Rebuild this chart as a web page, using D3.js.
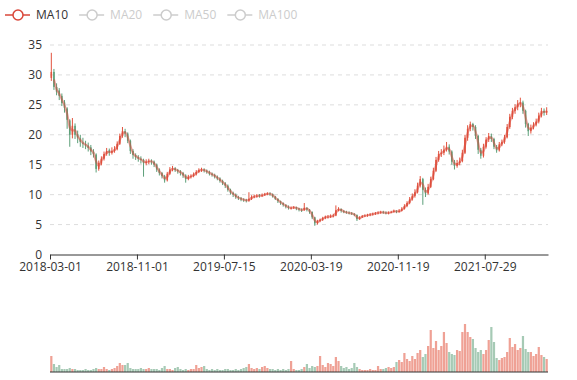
<!DOCTYPE html>
<html><head><meta charset="utf-8">
<script src="https://cdn.jsdelivr.net/npm/d3@7"></script>
<style>body{margin:0;background:#fff}svg{display:block}text{font-family:"Open Sans","Noto Sans",sans-serif}</style>
</head><body><svg id="c" width="577" height="380"></svg>
<script>
// Weekly candles (2018-03 .. 2022-01)
const tickLabels = ["2018-03-01","2018-11-01","2019-07-15","2020-03-19","2020-11-19","2021-07-29"];
const tickIndex = [0,33,66,99,132,165];
const seriesNames = ["MA10","MA20","MA50","MA100"];
const opens = [
29.5,30.5,28.0,27.4,26.5,25.4,24.4,22.4,20.0,21.5,
20.1,19.4,18.7,18.4,18.2,17.9,17.2,16.7,14.3,15.2,
16.0,16.8,17.4,17.0,17.3,17.6,18.5,19.8,20.6,20.2,
19.0,17.3,16.6,16.3,16.0,15.8,15.3,15.5,15.6,15.5,
15.0,14.2,13.6,13.1,12.4,13.5,14.2,14.4,14.1,13.9,
13.6,13.2,12.6,13.0,13.1,13.4,13.8,14.1,14.2,14.0,
13.8,13.5,13.3,13.0,12.7,12.3,11.9,11.5,10.8,10.3,
10.0,9.6,9.4,9.2,9.1,9.0,9.3,9.6,9.7,9.9,
9.8,9.9,10.1,10.2,10.1,9.7,9.3,8.9,8.6,8.3,
8.0,7.7,7.8,7.9,7.7,7.5,7.4,7.8,7.5,7.1,
6.2,5.2,5.6,5.8,6.1,6.2,6.3,6.4,6.5,7.4,
7.6,7.3,7.1,7.0,6.9,6.8,6.6,5.9,6.2,6.4,
6.5,6.6,6.7,6.8,6.9,7.0,7.1,7.0,6.9,7.0,
7.1,7.3,7.1,7.3,7.6,8.1,8.6,9.2,9.8,10.4,
11.5,12.6,10.8,10.2,11.3,12.6,14.0,15.8,16.8,17.0,
17.5,18.0,17.2,15.5,14.8,15.3,15.6,17.0,19.5,21.0,
21.8,21.3,19.8,17.5,16.5,18.0,19.2,19.8,19.3,18.0,
17.4,18.4,18.8,19.6,21.3,23.0,24.0,24.6,25.2,25.4,
24.0,21.8,20.6,21.2,21.7,22.2,23.2,24.0,23.7];
const closes = [
30.5,28.0,27.2,26.5,25.3,24.5,22.5,20.0,21.5,20.0,
19.5,18.8,18.5,18.2,17.8,17.2,16.8,14.3,15.3,16.0,
16.8,17.3,17.0,17.3,17.6,18.5,19.8,20.6,20.2,19.0,
17.3,16.6,16.3,16.0,15.8,15.3,15.5,15.6,15.5,15.0,
14.2,13.6,13.1,12.4,13.5,14.2,14.4,14.1,13.9,13.6,
13.2,12.6,13.0,13.1,13.4,13.8,14.1,14.2,14.0,13.8,
13.5,13.3,13.0,12.7,12.3,11.9,11.5,10.8,10.3,10.0,
9.6,9.4,9.2,9.1,9.0,9.3,9.6,9.7,9.8,9.8,
9.9,10.1,10.2,10.1,9.7,9.3,8.9,8.6,8.3,8.0,
7.8,7.8,7.9,7.7,7.5,7.4,7.8,7.5,7.1,6.2,
5.2,5.6,5.8,6.1,6.3,6.3,6.4,6.5,7.4,7.6,
7.3,7.1,7.0,6.9,6.8,6.6,5.9,6.2,6.4,6.5,
6.6,6.7,6.8,6.9,7.0,7.1,7.0,6.9,7.0,7.1,
7.3,7.1,7.3,7.6,8.1,8.6,9.2,9.8,10.4,11.5,
12.6,10.8,10.2,11.3,12.6,14.0,15.8,16.8,17.0,17.5,
18.0,17.2,15.5,14.8,15.3,15.6,17.0,19.5,21.0,21.8,
21.3,19.8,17.5,16.5,18.0,19.2,19.8,19.3,18.0,17.4,
18.4,18.8,19.6,21.3,23.0,24.0,24.6,25.2,25.4,24.0,
21.8,20.6,21.2,21.7,22.2,23.2,24.0,23.7,24.0];
const lows = [
29.0,27.5,26.6,25.8,24.8,23.7,21.0,18.0,19.4,19.3,
18.6,18.0,17.8,17.6,17.2,16.6,16.2,13.7,14.0,14.9,
15.7,16.5,16.5,16.7,17.0,17.4,18.3,19.5,19.6,18.6,
16.8,16.0,15.8,15.5,15.2,13.0,14.9,15.1,15.0,14.6,
13.8,13.2,12.7,12.0,12.2,13.3,13.9,13.8,13.5,13.2,
12.8,12.0,12.4,12.7,12.9,13.2,13.6,13.8,13.7,13.5,
13.2,13.0,12.7,12.4,12.0,11.6,11.1,10.5,10.0,9.6,
9.3,9.1,8.9,8.8,8.7,8.8,9.1,9.4,9.5,9.5,
9.6,9.8,9.9,9.8,9.5,9.1,8.6,8.3,8.0,7.7,
7.5,7.5,7.6,7.4,7.2,7.1,7.3,7.2,6.8,5.9,
4.8,5.0,5.4,5.6,5.9,6.0,6.1,6.2,6.4,7.2,
7.0,6.9,6.8,6.7,6.6,6.4,5.6,5.8,6.1,6.3,
6.3,6.4,6.5,6.6,6.7,6.8,6.8,6.7,6.7,6.9,
7.0,6.9,7.0,7.2,7.5,7.9,8.4,9.0,9.5,10.2,
11.2,8.3,9.6,10.0,11.1,12.4,13.8,15.5,16.3,16.6,
17.2,16.7,15.0,14.2,14.5,14.9,15.4,16.8,19.0,20.6,
20.7,19.3,16.8,16.0,16.2,17.7,18.8,18.8,17.6,17.0,
17.2,18.1,18.5,19.4,21.0,22.6,23.5,24.1,24.6,23.5,
21.2,19.8,20.2,20.9,21.4,21.9,22.9,23.2,23.3];
const highs = [
33.7,31.0,28.6,27.8,26.9,25.8,24.6,22.6,22.8,21.9,
20.7,20.0,19.5,19.0,18.7,18.3,17.6,16.9,15.7,16.4,
17.2,17.8,17.7,17.9,18.1,18.9,20.2,21.3,21.0,20.4,
19.2,17.6,16.9,16.6,16.4,16.0,15.9,16.0,15.9,15.7,
15.2,14.4,13.8,13.3,13.8,14.6,14.8,14.6,14.3,14.1,
13.8,13.4,13.3,13.4,13.7,14.1,14.4,14.5,14.4,14.2,
14.0,13.7,13.5,13.2,12.9,12.5,12.1,11.7,11.0,10.5,
10.2,9.8,9.6,9.4,9.3,10.4,9.9,10.0,10.1,10.1,
10.2,10.3,10.4,10.4,10.2,9.8,9.4,9.0,8.7,8.4,
8.2,8.0,8.1,8.0,7.8,7.7,8.6,7.9,7.6,7.2,
6.3,5.8,6.0,6.3,6.5,6.6,6.7,6.8,8.2,7.9,
7.7,7.4,7.3,7.2,7.1,6.9,6.7,6.4,6.6,6.7,
6.8,6.9,7.0,7.1,7.2,7.3,7.3,7.2,7.2,7.3,
7.5,7.4,7.6,7.9,8.4,8.9,9.6,10.2,10.9,12.0,
13.1,12.8,11.2,11.8,13.0,14.5,16.3,17.3,17.6,18.2,
18.8,18.4,17.4,15.8,15.8,16.2,17.5,20.0,21.6,22.2,
22.0,21.6,20.0,17.8,18.5,19.6,20.3,20.2,19.5,18.3,
18.8,19.2,20.0,21.8,23.5,24.5,25.1,25.8,26.2,25.7,
24.2,22.0,21.7,22.1,22.7,23.7,24.5,24.4,24.6];
const volumes = [
16,8,5,7,3,3,3,4,3,3,
2,2,2,3,2,2,3,4,3,3,
5,3,2,3,4,6,9,7,7,9,
4,3,3,3,4,3,3,4,3,3,
3,2,4,6,3,3,2,4,5,3,
2,3,2,3,3,7,4,5,6,3,
2,3,2,3,2,2,3,3,2,2,
3,2,3,4,5,8,4,3,4,3,
5,6,4,3,3,2,3,2,3,2,
3,11,3,2,2,3,5,8,4,6,
5,6,16,7,5,9,8,6,15,11,
6,4,5,3,4,9,5,3,2,2,
2,3,2,2,6,3,3,4,5,4,
5,10,12,10,19,13,11,16,13,19,
22,15,18,26,42,24,31,22,26,40,
29,20,18,17,22,21,40,48,40,35,
33,24,20,22,18,22,32,45,30,14,
12,14,15,20,34,25,28,22,24,36,
23,20,20,16,18,25,17,15,13];
const maWindow = 2; // 10 trading days = 2 weekly bars

const upColor = "#e2533e", downColor = "#5c9f79", maColor = "#d9473a";
const n = closes.length;
const svg = d3.select("#c");
const L = 50, R = 548, T = 45, B = 254.5, VT = 322, VB = 372;

const x = d3.scaleLinear().domain([0, n]).range([L, R]);
const y = d3.scaleLinear().domain([0, 35]).range([B, T]);
const yv = d3.scaleLinear().domain([0, 50]).range([VB, VT]);
const band = x(1) - x(0);

// grid lines
svg.append("g").selectAll("line").data(y.ticks(7).filter(d => d > 0)).join("line")
  .attr("x1", L).attr("x2", R).attr("y1", d => y(d)).attr("y2", d => y(d))
  .attr("stroke", "#ddd").attr("stroke-dasharray", "4,4");

// y axis
const ya = svg.append("g").attr("transform", `translate(${L},0)`)
  .call(d3.axisLeft(y).ticks(7).tickSize(0).tickPadding(8));
ya.select(".domain").remove();
ya.selectAll("text").attr("fill", "#333").style("font-size", "12px");

// candles
const cg = svg.append("g");
const idx = d3.range(n);
const col = i => closes[i] >= opens[i] ? upColor : downColor;
cg.selectAll("line").data(idx).join("line")
  .attr("x1", i => x(i + 0.5)).attr("x2", i => x(i + 0.5))
  .attr("y1", i => y(highs[i])).attr("y2", i => y(lows[i]))
  .attr("stroke", col).attr("stroke-width", 1);
const bw = band * 0.6;
cg.selectAll("rect").data(idx).join("rect")
  .attr("x", i => x(i + 0.5) - bw / 2).attr("width", bw)
  .attr("y", i => y(Math.max(opens[i], closes[i])))
  .attr("height", i => Math.max(0.8, Math.abs(y(opens[i]) - y(closes[i]))))
  .attr("fill", col);

// MA10
const ma = idx.map(i => i < maWindow - 1 ? null : d3.mean(closes.slice(i - maWindow + 1, i + 1)));
svg.append("path").datum(idx)
  .attr("d", d3.line().defined(i => ma[i] != null).x(i => x(i + 0.5)).y(i => y(ma[i])).curve(d3.curveMonotoneX))
  .attr("fill", "none").attr("stroke", maColor).attr("stroke-width", 2.2).attr("stroke-opacity", 0.5);

// x axis
const xa = svg.append("g").attr("transform", `translate(0,${B})`)
  .call(d3.axisBottom(x).tickValues(tickIndex).tickFormat((d, i) => tickLabels[i]).tickSize(5).tickPadding(3).tickSizeOuter(0));
xa.select(".domain").attr("stroke", "#333");
xa.selectAll(".tick line").attr("stroke", "#333");
xa.selectAll("text").attr("fill", "#333").style("font-size", "12px");

// volume bars
svg.append("g").selectAll("rect").data(idx).join("rect")
  .attr("x", i => x(i) + band * 0.08).attr("width", band * 0.84)
  .attr("y", i => yv(volumes[i])).attr("height", i => VB - yv(volumes[i]))
  .attr("fill", col).attr("fill-opacity", 0.55);
svg.append("line").attr("x1", L).attr("x2", R).attr("y1", VB).attr("y2", VB).attr("stroke", "#333");

// legend
let lx = 5;
seriesNames.forEach((name, i) => {
  const active = i === 0;
  const c = active ? maColor : "#ccc";
  const g = svg.append("g").attr("transform", `translate(${lx},15)`);
  g.append("line").attr("x1", 0).attr("x2", 25).attr("stroke", c).attr("stroke-width", 1.5);
  g.append("circle").attr("cx", 13).attr("r", 5).attr("fill", "#fff").attr("stroke", c).attr("stroke-width", 1.5);
  const t = g.append("text").attr("x", 31).attr("dy", "0.36em").text(name)
    .attr("fill", active ? "#333" : "#ccc").style("font-size", "12px");
  lx += 31 + t.node().getComputedTextLength() + 11;
});
</script></body></html>
